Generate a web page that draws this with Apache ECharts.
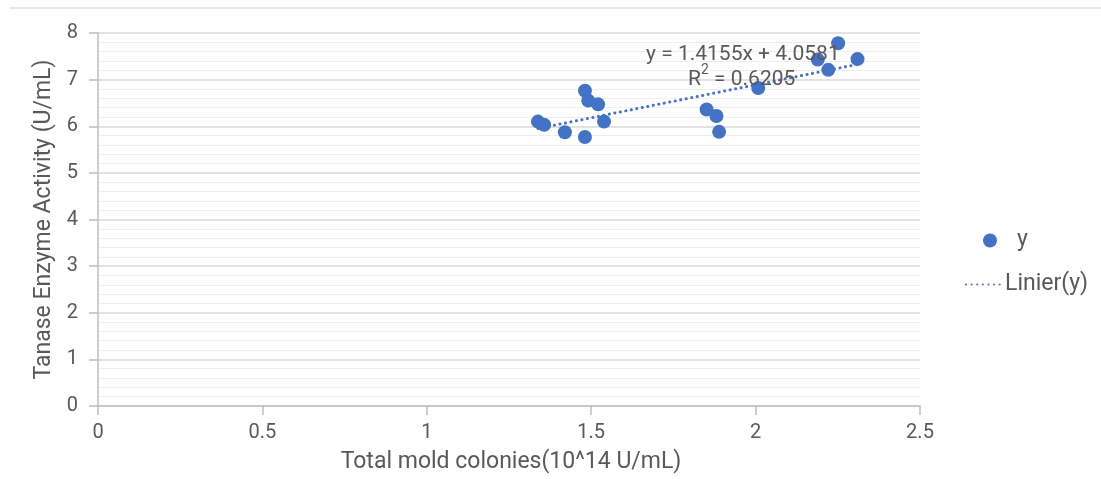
<!DOCTYPE html>
<html>
<head>
<meta charset="utf-8">
<script src="https://cdn.jsdelivr.net/npm/echarts@6/dist/echarts.min.js"></script>
<style>
html,body{margin:0;padding:0;background:#fff;}
#chart{width:1101px;height:479px;}
</style>
</head>
<body>
<div id="chart"></div>
<script>
const xValues = [1.338, 1.357, 1.420, 1.481, 1.481, 1.491, 1.521, 1.539, 1.851, 1.881, 1.889, 2.008, 2.189, 2.251, 2.221, 2.310];
const yValues = [6.10, 6.03, 5.87, 5.77, 6.76, 6.55, 6.47, 6.10, 6.36, 6.22, 5.88, 6.82, 7.43, 7.78, 7.21, 7.44];
const trendSlope = 1.4155;
const trendIntercept = 4.0581;
const rSquared = 0.6205;
const xTicks = [0, 0.5, 1, 1.5, 2, 2.5];
const yTicks = [0, 1, 2, 3, 4, 5, 6, 7, 8];

const points = xValues.map((x, i) => [x, yValues[i]]);
const xMin = Math.min(...xValues), xMax = Math.max(...xValues);
const trend = [[xMin, trendSlope * xMin + trendIntercept], [xMax, trendSlope * xMax + trendIntercept]];

const textColor = '#595959';
const font = 'Roboto, "Noto Sans", sans-serif';
const chart = echarts.init(document.getElementById('chart'), null, {renderer: 'canvas'});
chart.setOption({
  animation: false,
  backgroundColor: '#ffffff',
  textStyle: {fontFamily: font},
  grid: {left: 98, right: 181, top: 33, bottom: 70, containLabel: false},
  xAxis: {
    type: 'value', min: xTicks[0], max: xTicks[xTicks.length - 1], interval: 0.5,
    name: 'Total mold colonies(10^14 U/mL)', nameLocation: 'middle', nameGap: 45,
    nameTextStyle: {color: textColor, fontSize: 23, fontFamily: font, padding: [0, 0, 0, 4]},
    axisLine: {show: true, lineStyle: {color: '#bfbfbf', width: 1.5}},
    axisTick: {show: true, length: 9, lineStyle: {color: '#bfbfbf', width: 1.5}},
    axisLabel: {color: textColor, fontSize: 20, margin: 17, fontFamily: font},
    splitLine: {show: false}
  },
  yAxis: {
    type: 'value', min: yTicks[0], max: yTicks[yTicks.length - 1], interval: 1,
    name: 'Tanase Enzyme Activity (U/mL)', nameLocation: 'middle', nameGap: 39, nameRotate: 90,
    nameTextStyle: {color: textColor, fontSize: 23, fontFamily: font},
    axisLine: {show: true, lineStyle: {color: '#bfbfbf', width: 1.5}},
    axisTick: {show: true, length: 9, lineStyle: {color: '#bfbfbf', width: 1.5}},
    axisLabel: {color: textColor, fontSize: 20, margin: 20, fontFamily: font},
    splitLine: {show: true, lineStyle: {color: '#d9d9d9', width: 1.5}},
    minorTick: {show: false, splitNumber: 5},
    minorSplitLine: {show: true, lineStyle: {color: '#eeeeee', width: 1}}
  },
  legend: [
    {
      left: 978, top: 224, itemWidth: 14, itemHeight: 14,
      textStyle: {color: textColor, fontSize: 23, fontFamily: font, padding: [0, 0, 0, 15]},
      data: [{name: 'y', icon: 'circle'}]
    },
    {
      left: 960, top: 268, itemWidth: 34, itemHeight: 14,
      textStyle: {color: textColor, fontSize: 23, fontFamily: font},
      data: [{name: 'Linier(y)', itemStyle: {opacity: 0}}]
    }
  ],
  series: [
    {
      name: 'y', type: 'scatter', data: points, symbol: 'circle', symbolSize: 14,
      itemStyle: {color: '#4472C4', opacity: 1}, z: 3
    },
    {
      name: 'Linier(y)', type: 'line', data: trend, symbol: 'none', showSymbol: false,
      lineStyle: {color: '#4472C4', width: 3, type: [0.1, 5.5], cap: 'round'},
      itemStyle: {color: '#4472C4'}, z: 2
    }
  ],
  graphic: [
    {type: 'line', shape: {x1: 10, y1: 8, x2: 1101, y2: 8}, style: {stroke: '#e2e2e2', lineWidth: 1.5}},
    {type: 'text', left: 646, top: 44, z: 10,
      style: {text: 'y = ' + trendSlope + 'x + ' + trendIntercept, fill: textColor, font: '21px ' + font}},
    {type: 'text', left: 688, top: 63, z: 10,
      style: {
        text: '{b|R}{s|2}{b| = ' + rSquared + '}',
        rich: {
          b: {fontSize: 21, fill: textColor, color: textColor, fontFamily: font, verticalAlign: 'bottom', lineHeight: 27},
          s: {fontSize: 14, fill: textColor, color: textColor, fontFamily: font, verticalAlign: 'top', lineHeight: 27}
        }
      }}
  ]
});
</script>
</body>
</html>
